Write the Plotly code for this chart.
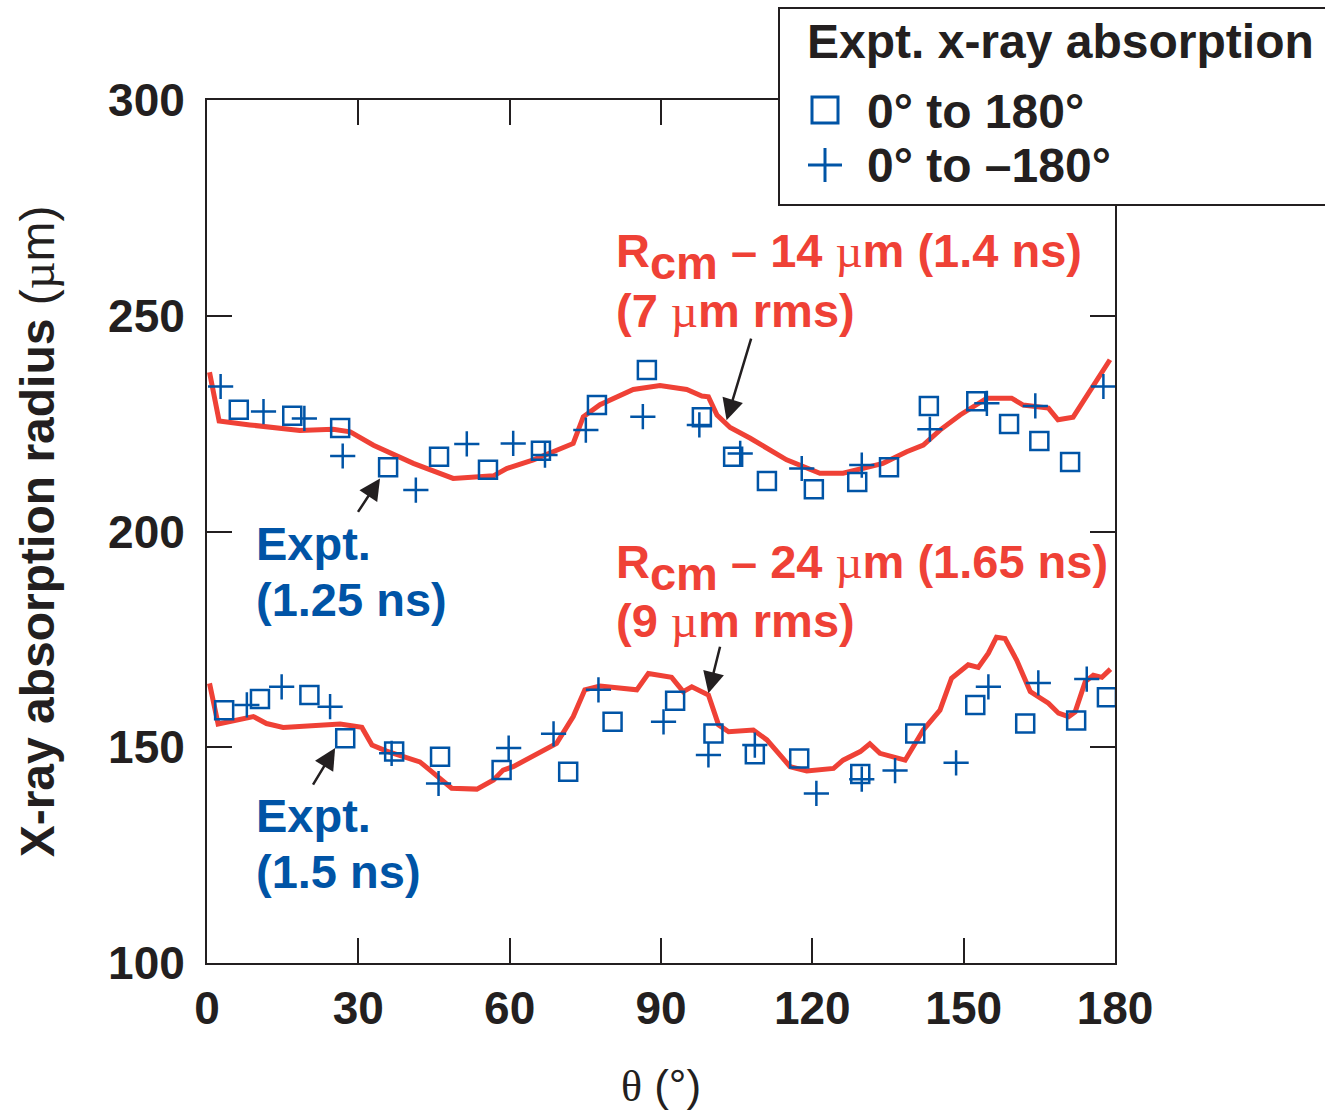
import plotly.graph_objects as go

# ---------------- data ----------------
# upper set (1.25 ns experiment, 1.4 ns simulation)
top_sq_x = [6.3, 16.9, 26.4, 35.9, 46.0, 55.7, 66.2, 77.3, 87.2, 98.1, 104.3, 111.0,
            120.3, 128.9, 135.2, 143.1, 152.5, 159.0, 165.0, 171.1]
top_sq_y = [228.2, 226.8, 224.0, 214.9, 217.3, 214.3, 218.7, 229.3, 237.4, 226.5, 217.3, 211.7,
            209.8, 211.5, 214.9, 229.1, 230.2, 224.9, 221.0, 216.1]
top_cr_x = [2.7, 11.2, 19.3, 26.9, 41.4, 51.5, 60.7, 67.0, 75.1, 86.4, 97.6, 105.7,
            117.9, 129.8, 143.3, 154.6, 164.2, 177.7]
top_cr_y = [233.6, 227.8, 226.2, 217.5, 209.6, 220.3, 220.4, 217.7, 223.5, 226.6, 224.7, 218.1,
            214.6, 215.4, 223.7, 229.7, 229.1, 233.6]
top_line_x = [0.5, 2.4, 8.5, 18.4, 25.0, 28.4, 33.0, 40.9, 48.8, 56.8, 59.4, 64.7, 72.6, 74.6,
              77.9, 84.5, 89.8, 95.1, 98.1, 99.4, 101.1, 103.7, 107.7, 114.9, 121.5, 126.1,
              134.0, 138.7, 142.0, 145.3, 149.3, 154.6, 159.5, 161.8, 166.8, 168.7, 171.7, 179.0]
top_line_y = [236.9, 225.6, 224.7, 223.4, 223.7, 223.1, 220.0, 215.8, 212.3, 212.9, 214.6, 216.6,
              220.4, 226.6, 229.4, 232.9, 233.8, 232.9, 231.4, 231.2, 227.0, 224.1, 221.6, 216.6,
              213.5, 213.5, 215.8, 218.5, 220.0, 223.5, 227.0, 230.9, 230.9, 229.3, 228.6, 225.9,
              226.5, 239.8]

# lower set (1.5 ns experiment, 1.65 ns simulation)
bot_sq_x = [3.4, 10.5, 20.3, 27.4, 37.1, 46.2, 58.4, 71.6, 80.4, 92.8, 100.4, 108.6, 117.4,
            129.5, 140.4, 152.3, 162.2, 172.3, 178.4]
bot_sq_y = [158.6, 161.2, 162.1, 152.1, 149.0, 147.8, 144.7, 144.3, 155.9, 160.8, 153.2, 148.4,
            147.4, 143.8, 153.2, 159.8, 155.5, 156.2, 161.6]
bot_cr_x = [7.9, 14.8, 24.4, 36.6, 45.9, 59.8, 68.7, 77.6, 90.5, 99.4, 108.6, 120.8, 129.8,
            136.4, 148.5, 154.9, 164.8, 174.4]
bot_cr_y = [159.8, 164.0, 159.4, 148.6, 141.6, 149.8, 153.1, 163.3, 155.9, 148.2, 150.5, 139.3,
            142.6, 144.6, 146.4, 164.0, 164.9, 165.8]
bot_line_x = [0.5, 2.2, 9.2, 11.8, 15.1, 21.7, 26.4, 30.7, 32.7, 35.6, 38.3, 42.2, 44.2, 48.5,
              53.5, 56.8, 58.7, 60.7, 69.3, 72.6, 74.9, 77.9, 85.2, 87.5, 92.1, 94.4, 96.1, 99.4,
              101.4, 103.4, 108.3, 111.0, 115.6, 118.9, 124.2, 126.1, 129.5, 131.4, 133.4, 138.4,
              142.0, 145.3, 147.6, 150.9, 152.9, 154.9, 156.5, 158.2, 160.5, 163.2, 166.8, 168.8,
              170.8, 172.1, 174.1, 175.7, 177.4, 179.1]
bot_line_y = [164.8, 155.4, 157.1, 155.5, 154.6, 155.2, 155.4, 154.6, 150.5, 149.1, 148.0, 146.6,
              144.7, 140.5, 140.3, 142.4, 144.7, 145.5, 150.9, 157.1, 163.3, 164.2, 163.3, 167.1,
              166.2, 162.9, 164.0, 162.1, 155.2, 153.6, 154.0, 151.7, 145.5, 144.5, 145.1, 147.0,
              149.0, 150.8, 148.6, 147.0, 154.0, 158.6, 166.0, 169.1, 168.5, 171.8, 175.5, 175.2,
              170.2, 162.9, 160.2, 157.9, 157.1, 158.2, 165.2, 166.7, 166.2, 168.1]

x_ticks = [0, 30, 60, 90, 120, 150, 180]
y_ticks = [100, 150, 200, 250, 300]

# ---------------- styling ----------------
W, H = 1325, 1111
L, R, T, B = 207, 1115, 100, 963
RED = '#EF4136'
BLUE = '#0054A6'
BLACK = '#231F20'
FONT = 'Liberation Sans, Arial, sans-serif'
MU = '<span style="font-family:Liberation Serif;font-weight:normal">µ</span>'


def px(x):
    return (x - L) / (R - L)


def py(y):
    return (B - y) / (B - T)


fig = go.Figure()

for lx, ly in [(top_line_x, top_line_y), (bot_line_x, bot_line_y)]:
    fig.add_trace(go.Scatter(x=lx, y=ly, mode='lines',
                             line=dict(color=RED, width=5), hoverinfo='skip'))

fig.add_trace(go.Scatter(x=top_sq_x + bot_sq_x, y=top_sq_y + bot_sq_y, mode='markers',
                         name='0° to 180°',
                         marker=dict(symbol='square-open', size=18, color=BLUE,
                                     line=dict(color=BLUE, width=2.5))))
fig.add_trace(go.Scatter(x=top_cr_x + bot_cr_x, y=top_cr_y + bot_cr_y, mode='markers',
                         name='0° to –180°',
                         marker=dict(symbol='cross-thin-open', size=18, color=BLUE,
                                     line=dict(color=BLUE, width=2.5))))

ann = []


def text(s, x, y, color, size=47, bold=True):
    ann.append(dict(text=s, x=px(x), y=py(y), xref='paper', yref='paper',
                    xanchor='left', yanchor='middle', showarrow=False,
                    font=dict(family=FONT, size=size, color=color,
                              weight='bold' if bold else 'normal')))


def arrow(x, y, ax, ay):
    ann.append(dict(text='', x=x, y=y, xref='x', yref='y', ax=ax, ay=ay,
                    showarrow=True, arrowhead=2, arrowsize=1.7, arrowwidth=2.5,
                    arrowcolor=BLACK, standoff=0))


SUB = '<span style="baseline-shift:-12px">cm</span>'
text('R' + SUB + ' – 14 ' + MU + 'm (1.4 ns)', 614, 256, RED)
text('(7 ' + MU + 'm rms)', 614, 310, RED)
text('R' + SUB + ' – 24 ' + MU + 'm (1.65 ns)', 614, 567, RED)
text('(9 ' + MU + 'm rms)', 614, 620, RED)
text('Expt.', 254, 543, BLUE)
text('(1.25 ns)', 254, 599, BLUE)
text('Expt.', 254, 815, BLUE)
text('(1.5 ns)', 254, 871, BLUE)

arrow(103.0, 225.8, 25, -83)
arrow(99.4, 162.5, 12, -48)
arrow(34.3, 212.3, -23, 35)
arrow(25.4, 149.8, -23, 38)

# legend (drawn by hand so the symbols can be as large as in the reference)
text('Expt. x-ray absorption', 805, 42, BLACK, size=48)
text('0° to 180°', 865, 111, BLACK, size=48)
text('0° to –180°', 865, 166, BLACK, size=48)

shapes = [
    dict(type='rect', xref='paper', yref='paper', x0=px(779), x1=px(1345),
         y0=py(205), y1=py(8), line=dict(color=BLACK, width=2), fillcolor='white',
         layer='above'),
    dict(type='rect', xref='paper', yref='paper', x0=px(812), x1=px(838),
         y0=py(123), y1=py(97), line=dict(color=BLUE, width=3), fillcolor='rgba(0,0,0,0)',
         layer='above'),
    dict(type='line', xref='paper', yref='paper', x0=px(808), x1=px(842),
         y0=py(165), y1=py(165), line=dict(color=BLUE, width=3), layer='above'),
    dict(type='line', xref='paper', yref='paper', x0=px(825), x1=px(825),
         y0=py(148), y1=py(182), line=dict(color=BLUE, width=3), layer='above'),
]

axis_common = dict(ticks='inside', ticklen=25, tickwidth=2, tickcolor=BLACK,
                   showline=True, linewidth=2, linecolor=BLACK, mirror='ticks',
                   showgrid=False, zeroline=False, automargin=False,
                   tickfont=dict(family=FONT, size=46, color=BLACK, weight='bold'))

fig.update_xaxes(range=[0, 180], tickvals=x_ticks, ticktext=[str(v) for v in x_ticks],
                 ticklabelstandoff=4,
                 title=dict(text='<span style="font-family:Liberation Serif">θ</span> (°)',
                            font=dict(family=FONT, size=44, color=BLACK), standoff=46),
                 **axis_common)
fig.update_yaxes(range=[100, 300], tickvals=y_ticks, ticktext=[str(v) for v in y_ticks],
                 ticklabelstandoff=11,
                 title=dict(text='<b>X-ray absorption radius</b> (' + MU + 'm)',
                            font=dict(family=FONT, size=48, color=BLACK), standoff=38),
                 **axis_common)

fig.update_layout(width=W, height=H,
                  margin=dict(l=L, r=W - R, t=T, b=H - B, pad=0, autoexpand=False),
                  plot_bgcolor='white', paper_bgcolor='white', showlegend=False,
                  annotations=ann, shapes=shapes)

fig.write_html('out.html')
